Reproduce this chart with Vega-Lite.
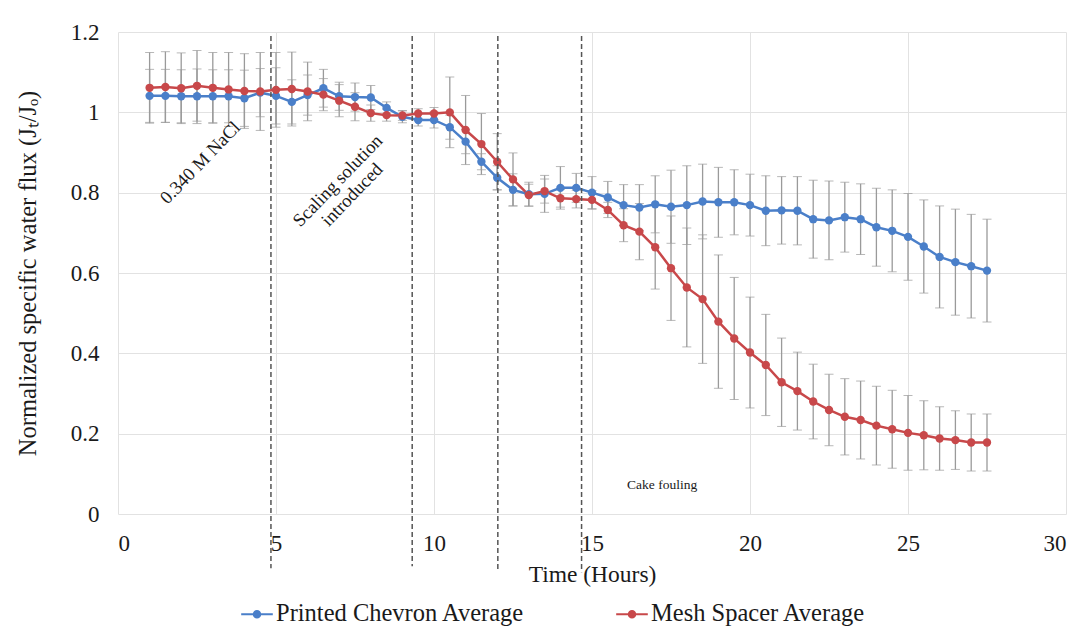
{
  "$schema": "https://vega.github.io/schema/vega-lite/v6.json",
  "width": 948,
  "height": 482,
  "autosize": {"type": "none"},
  "padding": {"left": 118, "top": 32, "right": 10, "bottom": 116},
  "background": "white",
  "config": {
    "font": "Liberation Serif",
    "view": {"stroke": null},
    "axis": {
      "labelFont": "Liberation Serif",
      "titleFont": "Liberation Serif",
      "labelColor": "#1a1a1a",
      "titleColor": "#1a1a1a",
      "titleFontWeight": "normal",
      "labelFontSize": 23,
      "titleFontSize": 23.5,
      "gridColor": "#e2e2e2",
      "gridWidth": 1,
      "domain": false,
      "ticks": false
    },
    "legend": {"labelFont": "Liberation Serif", "labelColor": "#1a1a1a"}
  },
  "data": {
    "values": [
      {"t": 1, "s": "Printed Chevron Average", "v": 1.041, "e": 0.066},
      {"t": 1.5, "s": "Printed Chevron Average", "v": 1.041, "e": 0.066},
      {"t": 2, "s": "Printed Chevron Average", "v": 1.040, "e": 0.066},
      {"t": 2.5, "s": "Printed Chevron Average", "v": 1.040, "e": 0.068},
      {"t": 3, "s": "Printed Chevron Average", "v": 1.040, "e": 0.066},
      {"t": 3.5, "s": "Printed Chevron Average", "v": 1.040, "e": 0.066},
      {"t": 4, "s": "Printed Chevron Average", "v": 1.035, "e": 0.07},
      {"t": 4.5, "s": "Printed Chevron Average", "v": 1.049, "e": 0.06},
      {"t": 5, "s": "Printed Chevron Average", "v": 1.041, "e": 0.07},
      {"t": 5.5, "s": "Printed Chevron Average", "v": 1.026, "e": 0.055},
      {"t": 6, "s": "Printed Chevron Average", "v": 1.043, "e": 0.05},
      {"t": 6.5, "s": "Printed Chevron Average", "v": 1.060, "e": 0.047},
      {"t": 7, "s": "Printed Chevron Average", "v": 1.040, "e": 0.035},
      {"t": 7.5, "s": "Printed Chevron Average", "v": 1.038, "e": 0.035},
      {"t": 8, "s": "Printed Chevron Average", "v": 1.037, "e": 0.03},
      {"t": 8.5, "s": "Printed Chevron Average", "v": 1.011, "e": 0.015},
      {"t": 9, "s": "Printed Chevron Average", "v": 0.989, "e": 0.015},
      {"t": 9.5, "s": "Printed Chevron Average", "v": 0.981, "e": 0.015},
      {"t": 10, "s": "Printed Chevron Average", "v": 0.981, "e": 0.02},
      {"t": 10.5, "s": "Printed Chevron Average", "v": 0.963, "e": 0.03},
      {"t": 11, "s": "Printed Chevron Average", "v": 0.927, "e": 0.03},
      {"t": 11.5, "s": "Printed Chevron Average", "v": 0.877, "e": 0.02},
      {"t": 12, "s": "Printed Chevron Average", "v": 0.837, "e": 0.03},
      {"t": 12.5, "s": "Printed Chevron Average", "v": 0.807, "e": 0.04},
      {"t": 13, "s": "Printed Chevron Average", "v": 0.796, "e": 0.03},
      {"t": 13.5, "s": "Printed Chevron Average", "v": 0.797, "e": 0.046},
      {"t": 14, "s": "Printed Chevron Average", "v": 0.812, "e": 0.053},
      {"t": 14.5, "s": "Printed Chevron Average", "v": 0.812, "e": 0.036},
      {"t": 15, "s": "Printed Chevron Average", "v": 0.800, "e": 0.04},
      {"t": 15.5, "s": "Printed Chevron Average", "v": 0.788, "e": 0.04},
      {"t": 16, "s": "Printed Chevron Average", "v": 0.769, "e": 0.051},
      {"t": 16.5, "s": "Printed Chevron Average", "v": 0.763, "e": 0.057},
      {"t": 17, "s": "Printed Chevron Average", "v": 0.771, "e": 0.071},
      {"t": 17.5, "s": "Printed Chevron Average", "v": 0.765, "e": 0.091},
      {"t": 18, "s": "Printed Chevron Average", "v": 0.769, "e": 0.098},
      {"t": 18.5, "s": "Printed Chevron Average", "v": 0.778, "e": 0.093},
      {"t": 19, "s": "Printed Chevron Average", "v": 0.776, "e": 0.087},
      {"t": 19.5, "s": "Printed Chevron Average", "v": 0.776, "e": 0.081},
      {"t": 20, "s": "Printed Chevron Average", "v": 0.769, "e": 0.077},
      {"t": 20.5, "s": "Printed Chevron Average", "v": 0.755, "e": 0.087},
      {"t": 21, "s": "Printed Chevron Average", "v": 0.756, "e": 0.084},
      {"t": 21.5, "s": "Printed Chevron Average", "v": 0.755, "e": 0.085},
      {"t": 22, "s": "Printed Chevron Average", "v": 0.734, "e": 0.097},
      {"t": 22.5, "s": "Printed Chevron Average", "v": 0.731, "e": 0.098},
      {"t": 23, "s": "Printed Chevron Average", "v": 0.739, "e": 0.087},
      {"t": 23.5, "s": "Printed Chevron Average", "v": 0.734, "e": 0.088},
      {"t": 24, "s": "Printed Chevron Average", "v": 0.714, "e": 0.097},
      {"t": 24.5, "s": "Printed Chevron Average", "v": 0.705, "e": 0.102},
      {"t": 25, "s": "Printed Chevron Average", "v": 0.690, "e": 0.108},
      {"t": 25.5, "s": "Printed Chevron Average", "v": 0.666, "e": 0.116},
      {"t": 26, "s": "Printed Chevron Average", "v": 0.640, "e": 0.127},
      {"t": 26.5, "s": "Printed Chevron Average", "v": 0.627, "e": 0.132},
      {"t": 27, "s": "Printed Chevron Average", "v": 0.617, "e": 0.129},
      {"t": 27.5, "s": "Printed Chevron Average", "v": 0.606, "e": 0.128},
      {"t": 1, "s": "Mesh Spacer Average", "v": 1.061, "e": 0.088},
      {"t": 1.5, "s": "Mesh Spacer Average", "v": 1.063, "e": 0.088},
      {"t": 2, "s": "Mesh Spacer Average", "v": 1.060, "e": 0.088},
      {"t": 2.5, "s": "Mesh Spacer Average", "v": 1.066, "e": 0.088},
      {"t": 3, "s": "Mesh Spacer Average", "v": 1.061, "e": 0.088},
      {"t": 3.5, "s": "Mesh Spacer Average", "v": 1.057, "e": 0.092},
      {"t": 4, "s": "Mesh Spacer Average", "v": 1.053, "e": 0.093},
      {"t": 4.5, "s": "Mesh Spacer Average", "v": 1.052, "e": 0.097},
      {"t": 5, "s": "Mesh Spacer Average", "v": 1.056, "e": 0.093},
      {"t": 5.5, "s": "Mesh Spacer Average", "v": 1.058, "e": 0.092},
      {"t": 6, "s": "Mesh Spacer Average", "v": 1.052, "e": 0.073},
      {"t": 6.5, "s": "Mesh Spacer Average", "v": 1.044, "e": 0.04},
      {"t": 7, "s": "Mesh Spacer Average", "v": 1.029, "e": 0.04},
      {"t": 7.5, "s": "Mesh Spacer Average", "v": 1.014, "e": 0.035},
      {"t": 8, "s": "Mesh Spacer Average", "v": 0.998, "e": 0.02},
      {"t": 8.5, "s": "Mesh Spacer Average", "v": 0.993, "e": 0.015},
      {"t": 9, "s": "Mesh Spacer Average", "v": 0.992, "e": 0.012},
      {"t": 9.5, "s": "Mesh Spacer Average", "v": 0.997, "e": 0.012},
      {"t": 10, "s": "Mesh Spacer Average", "v": 0.997, "e": 0.015},
      {"t": 10.5, "s": "Mesh Spacer Average", "v": 1.000, "e": 0.088},
      {"t": 11, "s": "Mesh Spacer Average", "v": 0.956, "e": 0.086},
      {"t": 11.5, "s": "Mesh Spacer Average", "v": 0.921, "e": 0.076},
      {"t": 12, "s": "Mesh Spacer Average", "v": 0.877, "e": 0.07},
      {"t": 12.5, "s": "Mesh Spacer Average", "v": 0.833, "e": 0.066},
      {"t": 13, "s": "Mesh Spacer Average", "v": 0.794, "e": 0.027},
      {"t": 13.5, "s": "Mesh Spacer Average", "v": 0.804, "e": 0.03},
      {"t": 14, "s": "Mesh Spacer Average", "v": 0.786, "e": 0.022},
      {"t": 14.5, "s": "Mesh Spacer Average", "v": 0.784, "e": 0.022},
      {"t": 15, "s": "Mesh Spacer Average", "v": 0.782, "e": 0.023},
      {"t": 15.5, "s": "Mesh Spacer Average", "v": 0.757, "e": 0.019},
      {"t": 16, "s": "Mesh Spacer Average", "v": 0.719, "e": 0.041},
      {"t": 16.5, "s": "Mesh Spacer Average", "v": 0.703, "e": 0.07},
      {"t": 17, "s": "Mesh Spacer Average", "v": 0.664, "e": 0.104},
      {"t": 17.5, "s": "Mesh Spacer Average", "v": 0.612, "e": 0.13},
      {"t": 18, "s": "Mesh Spacer Average", "v": 0.564, "e": 0.148},
      {"t": 18.5, "s": "Mesh Spacer Average", "v": 0.535, "e": 0.16},
      {"t": 19, "s": "Mesh Spacer Average", "v": 0.479, "e": 0.166},
      {"t": 19.5, "s": "Mesh Spacer Average", "v": 0.437, "e": 0.152},
      {"t": 20, "s": "Mesh Spacer Average", "v": 0.402, "e": 0.138},
      {"t": 20.5, "s": "Mesh Spacer Average", "v": 0.371, "e": 0.126},
      {"t": 21, "s": "Mesh Spacer Average", "v": 0.328, "e": 0.11},
      {"t": 21.5, "s": "Mesh Spacer Average", "v": 0.306, "e": 0.097},
      {"t": 22, "s": "Mesh Spacer Average", "v": 0.280, "e": 0.093},
      {"t": 22.5, "s": "Mesh Spacer Average", "v": 0.259, "e": 0.089},
      {"t": 23, "s": "Mesh Spacer Average", "v": 0.242, "e": 0.095},
      {"t": 23.5, "s": "Mesh Spacer Average", "v": 0.234, "e": 0.097},
      {"t": 24, "s": "Mesh Spacer Average", "v": 0.220, "e": 0.098},
      {"t": 24.5, "s": "Mesh Spacer Average", "v": 0.211, "e": 0.097},
      {"t": 25, "s": "Mesh Spacer Average", "v": 0.202, "e": 0.093},
      {"t": 25.5, "s": "Mesh Spacer Average", "v": 0.196, "e": 0.086},
      {"t": 26, "s": "Mesh Spacer Average", "v": 0.188, "e": 0.079},
      {"t": 26.5, "s": "Mesh Spacer Average", "v": 0.184, "e": 0.073},
      {"t": 27, "s": "Mesh Spacer Average", "v": 0.178, "e": 0.071},
      {"t": 27.5, "s": "Mesh Spacer Average", "v": 0.178, "e": 0.071}
    ]
  },
  "encoding": {
    "x": {
      "field": "t",
      "type": "quantitative",
      "scale": {"domain": [0, 30], "nice": false, "zero": false},
      "axis": {
        "title": "Time (Hours)",
        "values": [0, 5, 10, 15, 20, 25, 30],
        "format": "d",
        "labelPadding": 18,
        "titlePadding": 7,
        "grid": true
      }
    },
    "y": {
      "field": "v",
      "type": "quantitative",
      "scale": {"domain": [0, 1.2], "nice": false},
      "axis": {
        "title": "Normalized  specific  water  flux (Jₜ/Jₒ)",
        "values": [0, 0.2, 0.4, 0.6, 0.8, 1, 1.2],
        "format": "~g",
        "labelPadding": 19,
        "titlePadding": 30,
        "titleFontSize": 24.5,
        "grid": true
      }
    }
  },
  "layer": [
    {
      "mark": {
        "type": "errorbar",
        "ticks": {"size": 9, "color": "#9a9a9a", "strokeWidth": 1.3},
        "rule": {"color": "#9a9a9a", "strokeWidth": 1.3}
      },
      "encoding": {
        "yError": {"field": "e"}
      }
    },
    {
      "mark": {
        "type": "line",
        "strokeWidth": 2.5,
        "point": {"filled": true, "size": 70, "opacity": 1}
      },
      "encoding": {
        "color": {
          "field": "s",
          "type": "nominal",
          "scale": {
            "domain": ["Printed Chevron Average", "Mesh Spacer Average"],
            "range": ["#4a7fc9", "#c8484a"]
          },
          "legend": {
            "orient": "none",
            "legendX": 122,
            "legendY": 565,
            "direction": "horizontal",
            "title": null,
            "symbolType": "M-1,0H1M-0.2,0A0.2,0.2,0,1,0,0.2,0A0.2,0.2,0,1,0,-0.2,0Z",
            "symbolSize": 1000,
            "symbolStrokeWidth": 2.2,
            "labelFontSize": 24.5,
            "labelLimit": 500,
            "labelOffset": 2,
            "columnPadding": 86,
            "padding": 0,
            "encode": {
              "symbols": {
                "update": {
                  "fill": {"scale": "color", "field": "value"},
                  "stroke": {"scale": "color", "field": "value"},
                  "opacity": {"value": 1}
                }
              }
            }
          }
        }
      }
    },
    {
      "data": {"values": [
        {"x": 4.84, "top": 1.19, "bottom": -0.135},
        {"x": 9.31, "top": 1.19, "bottom": -0.13},
        {"x": 12.02, "top": 1.19, "bottom": -0.14},
        {"x": 14.67, "top": 1.19, "bottom": -0.145}
      ]},
      "mark": {"type": "rule", "color": "#555555", "strokeWidth": 1.5, "strokeDash": [5, 3]},
      "encoding": {
        "x": {"field": "x", "type": "quantitative"},
        "y": {"field": "top", "type": "quantitative"},
        "y2": {"field": "bottom"}
      }
    },
    {
      "data": {"values": [{"x": 2.6, "y": 0.875, "label": "0.340 M NaCl"}]},
      "mark": {"type": "text", "angle": 314, "fontSize": 18.5, "font": "Liberation Serif", "color": "#1a1a1a", "align": "center", "baseline": "middle"},
      "encoding": {
        "x": {"field": "x", "type": "quantitative"},
        "y": {"field": "y", "type": "quantitative"},
        "text": {"field": "label"}
      }
    },
    {
      "data": {"values": [{"x": 6.95, "y": 0.83, "label": "Scaling solution\nintroduced"}]},
      "mark": {"type": "text", "angle": 314, "fontSize": 18.5, "font": "Liberation Serif", "color": "#1a1a1a", "align": "center", "baseline": "middle", "lineBreak": "\n", "lineHeight": 20},
      "encoding": {
        "x": {"field": "x", "type": "quantitative"},
        "y": {"field": "y", "type": "quantitative"},
        "text": {"field": "label"}
      }
    },
    {
      "data": {"values": [{"x": 17.22, "y": 0.072, "label": "Cake fouling"}]},
      "mark": {"type": "text", "fontSize": 13.5, "font": "Liberation Serif", "color": "#1a1a1a", "align": "center", "baseline": "middle"},
      "encoding": {
        "x": {"field": "x", "type": "quantitative"},
        "y": {"field": "y", "type": "quantitative"},
        "text": {"field": "label"}
      }
    }
  ]
}
